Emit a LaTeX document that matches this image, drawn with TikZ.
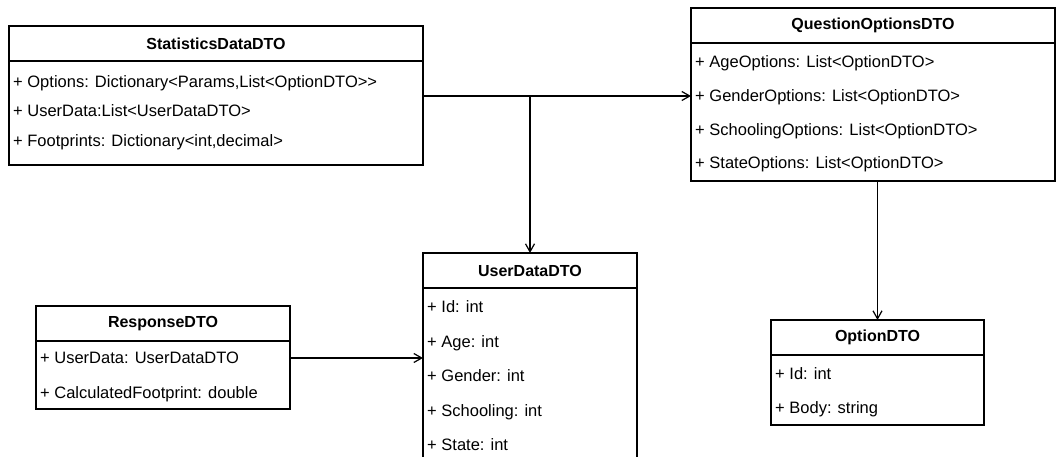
\documentclass[tikz,border=0pt]{standalone}
\usepackage{fontspec}
\setmainfont{Liberation Sans}
\usetikzlibrary{positioning,arrows.meta}

\begin{document}
\begin{tikzpicture}[x=1pt,y=-1pt,
        classhead/.style={draw,line width=1.2pt,minimum height=35pt,inner sep=0pt,outer sep=0pt,anchor=north west,font=\fontsize{16}{19}\selectfont\bfseries},
        classbody/.style={draw,line width=1.2pt,inner sep=0pt,outer sep=0pt},
        field/.style={anchor=west,inner sep=0pt,text height=11pt,text depth=0pt,font=\fontsize{16.5}{19}\selectfont},
        link/.style={line width=1.2pt},
        assoc/.style={link,-{Straight Barb[length=8pt,width=9pt]}}]
        \useasboundingbox (0,0) rectangle (1056,457);
        \clip (0,0) rectangle (1056,457);

        \node[classhead,minimum width=414pt] (stat) at (9,26) {StatisticsDataDTO};
        \node[classbody,minimum width=414pt,minimum height=104pt,below=0pt of stat] (statbody) {};
        \node[field] (stat1) at ([xshift=4pt,yshift=-21pt]statbody.north west) {+ Options: Dictionary<Params,List<OptionDTO>\kern0pt>};
        \node[field] (stat2) at ([xshift=4pt,yshift=-50.5pt]statbody.north west) {+ UserData:List<UserDataDTO>};
        \node[field] (stat3) at ([xshift=4pt,yshift=-80pt]statbody.north west) {+ Footprints: Dictionary<int,decimal>};

        \node[classhead,minimum width=364pt] (qo) at (691,8) {QuestionOptionsDTO};
        \node[classbody,minimum width=364pt,minimum height=138pt,below=0pt of qo] (qobody) {};
        \node[field] (qo1) at ([xshift=4pt,yshift=-19pt]qobody.north west) {+ AgeOptions: List<OptionDTO>};
        \node[field] (qo2) at ([xshift=4pt,yshift=-53pt]qobody.north west) {+ GenderOptions: List<OptionDTO>};
        \node[field] (qo3) at ([xshift=4pt,yshift=-87pt]qobody.north west) {+ SchoolingOptions: List<OptionDTO>};
        \node[field] (qo4) at ([xshift=4pt,yshift=-120pt]qobody.north west) {+ StateOptions: List<OptionDTO>};

        \node[classhead,minimum width=214pt] (ud) at (423,253) {UserDataDTO};
        \node[classbody,minimum width=214pt,minimum height=176pt,below=0pt of ud] (udbody) {};
        \node[field] (ud1) at ([xshift=4pt,yshift=-19pt]udbody.north west) {+ Id: int};
        \node[field] (ud2) at ([xshift=4pt,yshift=-53.5pt]udbody.north west) {+ Age: int};
        \node[field] (ud3) at ([xshift=4pt,yshift=-88pt]udbody.north west) {+ Gender: int};
        \node[field] (ud4) at ([xshift=4pt,yshift=-122.5pt]udbody.north west) {+ Schooling: int};
        \node[field] (ud5) at ([xshift=4pt,yshift=-157pt]udbody.north west) {+ State: int};

        \node[classhead,minimum width=254pt] (resp) at (36,306) {ResponseDTO};
        \node[classbody,minimum width=254pt,minimum height=68pt,below=0pt of resp] (respbody) {};
        \node[field] (resp1) at ([xshift=4pt,yshift=-17pt]respbody.north west) {+ UserData: UserDataDTO};
        \node[field] (resp2) at ([xshift=4pt,yshift=-52pt]respbody.north west) {+ CalculatedFootprint: double};

        \node[classhead,minimum width=213pt] (opt) at (771,320) {OptionDTO};
        \node[classbody,minimum width=213pt,minimum height=70pt,below=0pt of opt] (optbody) {};
        \node[field] (opt1) at ([xshift=4pt,yshift=-19pt]optbody.north west) {+ Id: int};
        \node[field] (opt2) at ([xshift=4pt,yshift=-53pt]optbody.north west) {+ Body: string};

        \coordinate (split) at (ud.north |- qo2);
        \draw[link] (statbody.east |- split) -- (split);
        \draw[assoc] (split) -- (qobody.west |- split);
        \draw[assoc] (split) -- (ud.north);
        \draw[assoc] (qobody.south -| opt.north) -- (opt.north);
        \draw[assoc] (respbody.east |- resp1) -- (udbody.west |- resp1);
    \end{tikzpicture}
\end{document}
